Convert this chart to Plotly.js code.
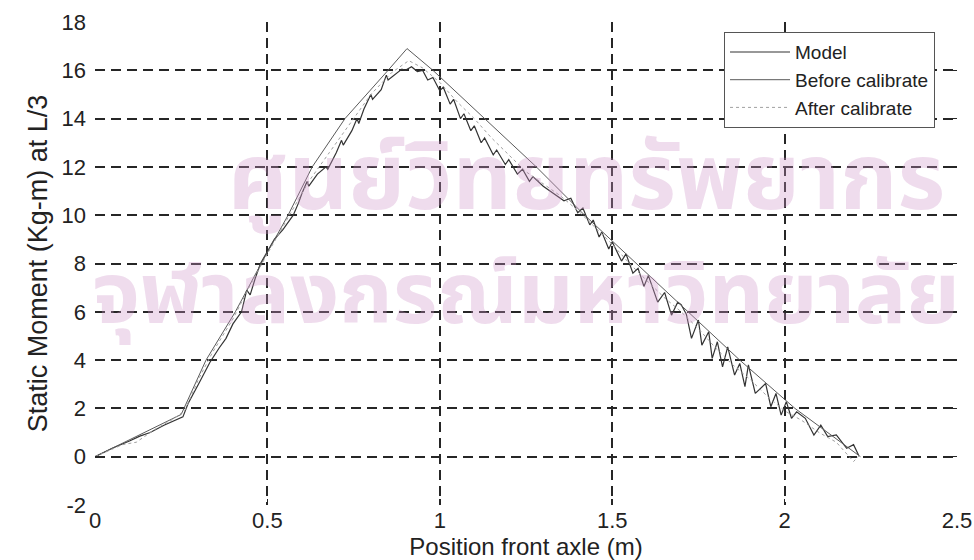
<!DOCTYPE html>
<html>
<head>
<meta charset="utf-8">
<script src="https://cdn.plot.ly/plotly-3.0.1.min.js"></script>
<style>
html,body{margin:0;padding:0;background:#fff;}
#chart{width:974px;height:560px;}
</style>
</head>
<body>
<div id="chart"></div>
<script>
// Model (measured, jagged)
var modelX = [0,0.05,0.1,0.13,0.16,0.2,0.255,0.27,0.3,0.333,0.36,0.38,0.4,0.425,0.44,0.45,0.465,0.48,0.5,0.52,0.545,0.575,0.59,0.6,0.615,0.62,0.645,0.67,0.675,0.7,0.715,0.72,0.745,0.76,0.765,0.78,0.8,0.805,0.83,0.845,0.85,0.875,0.89,0.9,0.918,0.935,0.95,0.965,0.98,1.0,1.01,1.03,1.04,1.06,1.07,1.09,1.1,1.12,1.13,1.155,1.165,1.19,1.2,1.225,1.24,1.26,1.27,1.3,1.33,1.36,1.38,1.4,1.415,1.435,1.445,1.462,1.47,1.49,1.5,1.527,1.54,1.56,1.575,1.592,1.605,1.632,1.652,1.672,1.69,1.7,1.715,1.73,1.75,1.76,1.78,1.79,1.805,1.82,1.835,1.855,1.87,1.885,1.895,1.915,1.945,1.96,1.975,1.99,2.005,2.02,2.035,2.06,2.085,2.105,2.125,2.15,2.18,2.2,2.215];
var modelY = [0,0.35,0.65,0.85,1.0,1.3,1.65,2.2,3.0,3.9,4.5,4.9,5.5,6.0,6.9,6.7,7.4,8.0,8.5,9.0,9.4,10.0,10.5,10.9,11.4,11.2,11.7,12.0,11.9,12.6,13.1,12.9,13.5,14.0,13.8,14.4,15.0,14.8,15.2,15.8,15.6,15.9,16.05,16.0,16.15,15.95,16.0,15.6,15.7,15.15,15.3,14.6,14.8,14.0,14.2,13.5,13.7,13.0,13.2,12.5,12.7,12.1,12.3,11.7,11.9,11.4,11.6,11.2,10.9,10.6,10.7,10.1,10.3,9.6,9.8,9.1,9.3,8.6,8.9,8.1,8.4,7.6,7.8,7.05,7.5,6.4,6.8,5.86,6.4,6.3,5.9,4.9,5.66,4.62,5.17,4.07,4.76,3.72,4.55,3.38,3.86,2.9,3.8,2.62,3.03,2.07,2.62,1.72,2.28,1.59,1.86,1.59,0.9,1.31,0.83,0.9,0.35,0.5,0.05];

// Before calibrate (smooth)
var beforeX = [0,0.25,0.322,0.407,0.482,0.56,0.63,0.725,0.85,0.905,0.98,1.13,1.28,1.42,1.57,1.72,1.87,2.03,2.22];
var beforeY = [0,1.75,4.0,6.0,8.0,10.0,12.0,14.0,16.0,16.9,16.0,14.0,12.0,10.0,8.0,6.0,4.0,2.0,0];

// After calibrate (dotted)
var afterX = [0,0.08,0.12,0.17,0.22,0.26,0.3,0.34,0.4,0.45,0.5,0.56,0.62,0.68,0.74,0.8,0.86,0.91,0.95,1.0,1.05,1.1,1.15,1.2,1.25,1.3,1.35,1.4,1.45,1.5,1.55,1.6,1.65,1.7,1.75,1.8,1.85,1.9,1.95,2.0,2.05,2.1,2.15,2.2,2.22];
var afterY = [0,0.5,0.6,1.1,1.5,1.9,3.2,4.3,5.7,7.1,8.4,9.9,11.4,12.6,13.8,15.0,15.9,16.4,16.1,15.5,14.7,14.0,13.2,12.5,11.8,11.3,10.8,10.2,9.5,8.8,8.0,7.3,6.6,6.0,5.3,4.5,3.8,3.2,2.5,1.9,1.5,1.0,0.6,-0.2,0.1];

var seriesNames = ['Model','Before calibrate','After calibrate'];
var xTicks = [0,0.5,1,1.5,2,2.5];
var xTickText = ['0','0.5','1','1.5','2','2.5'];
var yTicks = [-2,0,2,4,6,8,10,12,14,16,18];
var yTickText = ['-2','0','2','4','6','8','10','12','14','16','18'];
var watermark = ['ศูนย์วิทยทรัพยากร','จุฬาลงกรณ์มหาวิทยาลัย'];

var traces = [
  {x: modelX, y: modelY, name: seriesNames[0], mode: 'lines', line: {color: '#333', width: 1.2}},
  {x: beforeX, y: beforeY, name: seriesNames[1], mode: 'lines', line: {color: '#5a5a5a', width: 1}},
  {x: afterX, y: afterY, name: seriesNames[2], mode: 'lines', line: {color: '#a0a0a0', width: 1, dash: 'dot'}}
];

var font = 'Arial, "Liberation Sans", Helvetica, sans-serif';
var wmFont = '"Noto Sans Thai", "Noto Sans", "DejaVu Sans", sans-serif';
var axisCommon = {
  showgrid: true, gridcolor: '#262626', gridwidth: 2, griddash: '10px,6px',
  zeroline: false, showline: false,
  ticks: 'inside', ticklen: 6, tickcolor: '#262626', tickwidth: 1.5, mirror: 'ticks',
  tickfont: {family: font, size: 22, color: '#222'}
};

var layout = {
  width: 974, height: 560,
  margin: {l: 95, r: 17, t: 22, b: 55},
  paper_bgcolor: '#fff', plot_bgcolor: 'rgba(0,0,0,0)',
  showlegend: true,
  legend: {x: 0.9745, y: 0.979, xanchor: 'right', yanchor: 'top',
    bgcolor: '#fff', bordercolor: '#555', borderwidth: 1, itemwidth: 60,
    font: {family: font, size: 19, color: '#222'}, tracegroupgap: 0},
  xaxis: Object.assign({}, axisCommon, {
    range: [0, 2.5], tickvals: xTicks, ticktext: xTickText,
    title: {text: 'Position front axle (m)', font: {family: font, size: 24, color: '#222'}, standoff: 2}
  }),
  yaxis: Object.assign({}, axisCommon, {
    range: [-2, 18], tickvals: yTicks, ticktext: yTickText, ticklabelstandoff: 8,
    title: {text: 'Static Moment (Kg-m) at L/3', font: {family: font, size: 27, color: '#222'}, standoff: 6}
  }),
  annotations: [
    {text: '<b>' + watermark[0] + '</b>', xref: 'paper', yref: 'paper', x: 0.57, y: 0.82, showarrow: false,
     font: {family: wmFont, size: 92, color: 'rgba(205,150,200,0.33)'}},
    {text: '<b>' + watermark[1] + '</b>', xref: 'paper', yref: 'paper', x: 0.5, y: 0.43, showarrow: false,
     font: {family: wmFont, size: 86, color: 'rgba(205,150,200,0.33)'}}
  ]
};

Plotly.newPlot('chart', traces, layout, {displayModeBar: false, staticPlot: true});
</script>
</body>
</html>
